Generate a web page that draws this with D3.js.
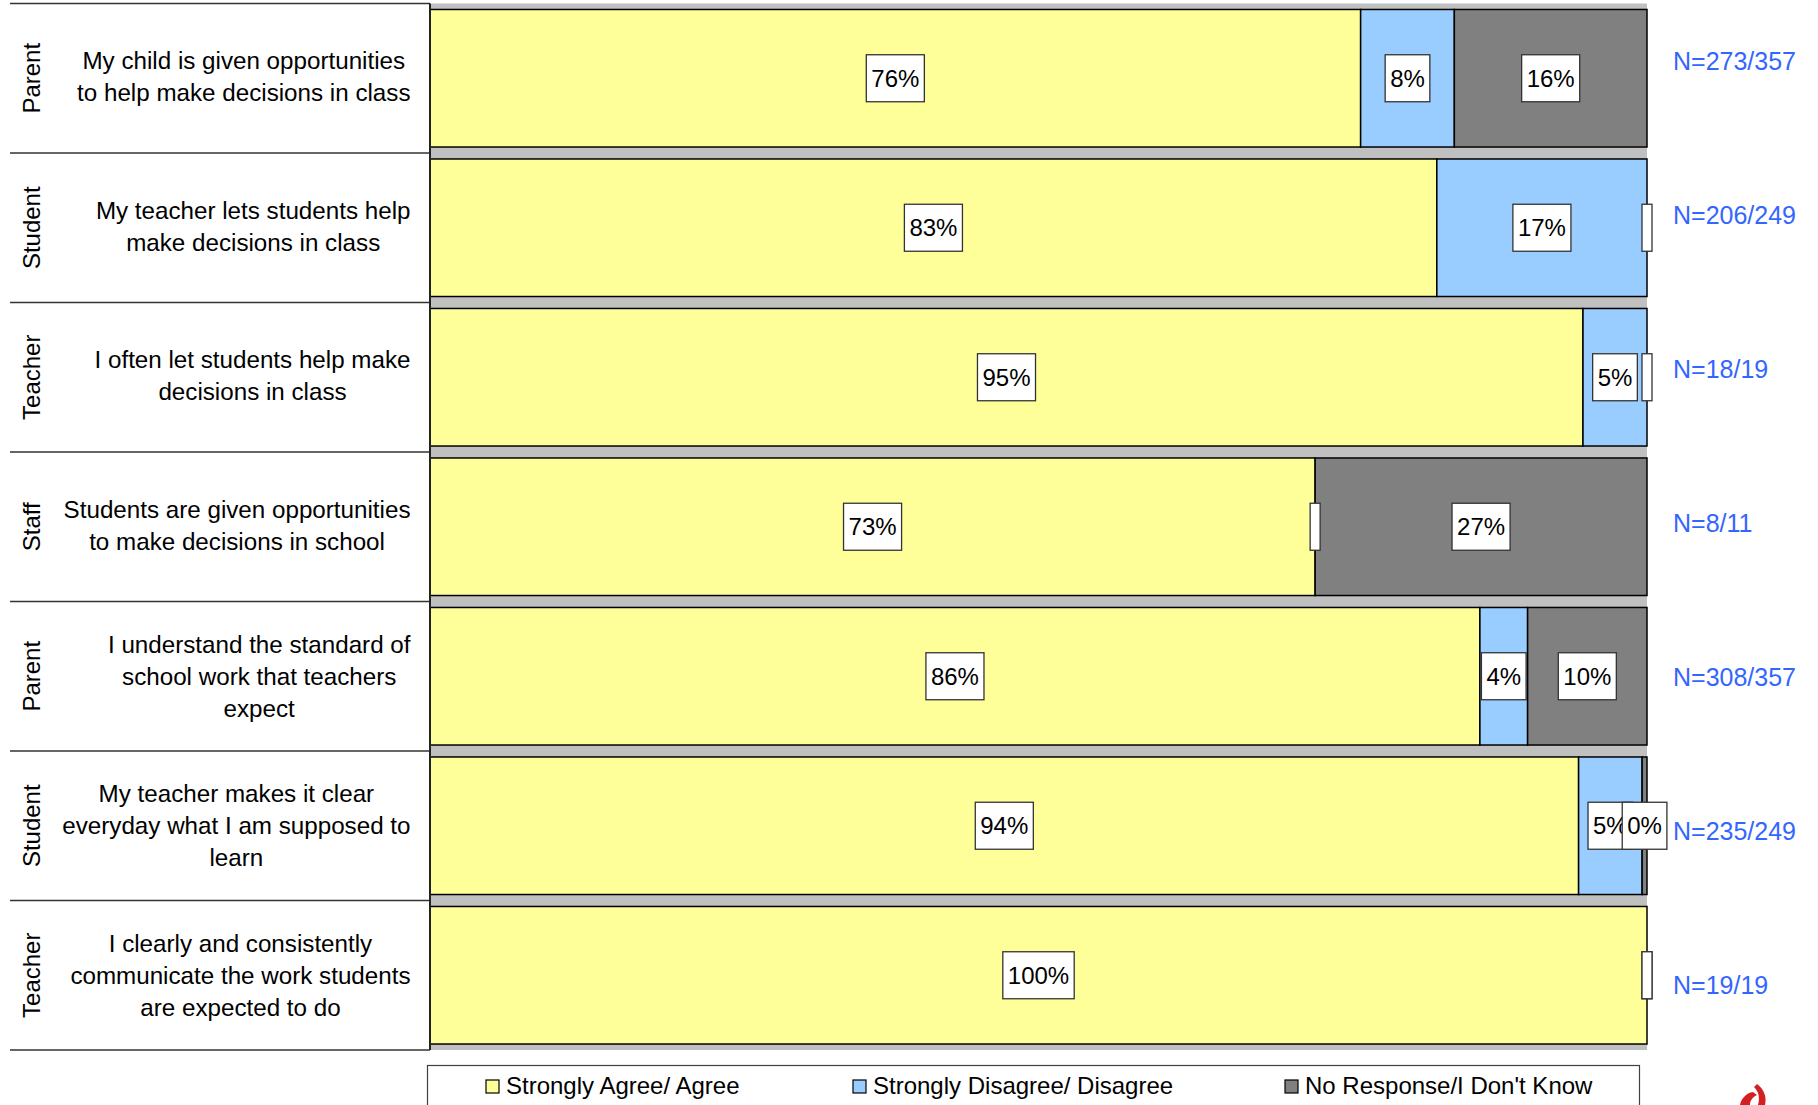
<!DOCTYPE html>
<html>
<head>
<meta charset="utf-8">
<script src="https://cdn.jsdelivr.net/npm/d3@7"></script>
<style>
  html, body { margin: 0; padding: 0; background: #fff; }
  svg { display: block; font-family: "Liberation Sans", Arial, sans-serif; }
</style>
</head>
<body>
<svg id="chart" width="1818" height="1105"></svg>
<script>
// ---- data ----
const groups = ["Parent", "Student", "Teacher", "Staff", "Parent", "Student", "Teacher"];
const questions = [
  ["My child is given opportunities", "to help make decisions in class"],
  ["My teacher lets students help", "make decisions in class"],
  ["I often let students help make", "decisions in class"],
  ["Students are given opportunities", "to make decisions in school"],
  ["I understand the standard of", "school work that teachers", "expect"],
  ["My teacher makes it clear", "everyday what I am supposed to", "learn"],
  ["I clearly and consistently", "communicate the work students", "are expected to do"]
];
const agree    = [76.47, 82.73, 94.74, 72.73, 86.27, 94.38, 100];
const disagree = [7.70, 17.27, 5.26, 0, 3.92, 5.22, 0];
const noResp   = [15.83, 0, 0, 27.27, 9.81, 0.40, 0];
const nLabels  = ["N=273/357", "N=206/249", "N=18/19", "N=8/11", "N=308/357", "N=235/249", "N=19/19"];
const seriesNames = ["Strongly Agree/ Agree", "Strongly Disagree/ Disagree", "No Response/I Don't Know"];
const seriesColors = ["#FFFF99", "#99CCFF", "#808080"];

// ---- layout ----
const svg = d3.select("#chart");
const plotL = 430, plotR = 1647, plotT = 3.5, plotB = 1050;
const rows = d3.range(groups.length);

const x = d3.scaleLinear().domain([0, 100]).range([plotL, plotR]);
const y = d3.scaleBand().domain(rows).range([plotT, plotB]).paddingInner(0.08).paddingOuter(0.04);
const rowBand = d3.scaleBand().domain(rows).range([plotT, plotB]);
const nY = d3.scalePoint().domain(rows).range([61, 985]);

// plot background
svg.append("rect")
  .attr("x", plotL).attr("y", plotT)
  .attr("width", plotR - plotL).attr("height", plotB - plotT)
  .attr("fill", "#C0C0C0");

// left separators
svg.append("g").selectAll("line")
  .data(d3.range(groups.length + 1))
  .join("line")
  .attr("x1", 10).attr("x2", plotL)
  .attr("y1", i => i < groups.length ? rowBand(i) : plotB)
  .attr("y2", i => i < groups.length ? rowBand(i) : plotB)
  .attr("stroke", "#333").attr("stroke-width", 1.5);

// stacked data
const table = rows.map(i => ({ row: i, values: [agree[i], disagree[i], noResp[i]] }));
const segs = [];
table.forEach(r => {
  let acc = 0;
  r.values.forEach((v, s) => {
    segs.push({ row: r.row, s, v, x0: acc, x1: acc + v });
    acc += v;
  });
});

// bars
svg.append("g").selectAll("rect")
  .data(segs)
  .join("rect")
  .attr("x", d => x(d.x0))
  .attr("y", d => y(d.row))
  .attr("width", d => x(d.x1) - x(d.x0))
  .attr("height", y.bandwidth())
  .attr("fill", d => seriesColors[d.s])
  .attr("stroke", "#000").attr("stroke-width", 1.5);

// left axis line
svg.append("line")
  .attr("x1", plotL).attr("x2", plotL)
  .attr("y1", plotT).attr("y2", plotB)
  .attr("stroke", "#222").attr("stroke-width", 2);

// data labels
const lblG = svg.append("g");
segs.forEach(d => {
  const txt = d.v === 0 ? "" : Math.round(d.v) + "%";
  const cx = x((d.x0 + d.x1) / 2);
  const cy = y(d.row) + y.bandwidth() / 2;
  const g = lblG.append("g");
  const rect = g.append("rect").attr("fill", "#fff").attr("stroke", "#333").attr("stroke-width", 1.3);
  const t = g.append("text")
    .attr("x", cx).attr("y", cy + 8.5)
    .attr("text-anchor", "middle")
    .attr("font-size", 24).attr("fill", "#000")
    .text(txt);
  const w = (txt ? t.node().getComputedTextLength() : 0) + 10;
  rect.attr("x", cx - w / 2).attr("y", cy - 23.5).attr("width", w).attr("height", 47);
});

// group labels (rotated)
svg.append("g").selectAll("text")
  .data(rows)
  .join("text")
  .attr("transform", i => `translate(40,${rowBand(i) + rowBand.bandwidth() / 2}) rotate(-90)`)
  .attr("text-anchor", "middle")
  .attr("font-size", 24).attr("fill", "#000")
  .text(i => groups[i]);

// question text
const qG = svg.append("g");
rows.forEach(i => {
  const lines = questions[i];
  const g = qG.append("g");
  const cy = rowBand(i) + rowBand.bandwidth() / 2 - (lines.length === 2 ? 1.5 : 0);
  const lh = 32;
  const texts = g.selectAll("text").data(lines).join("text")
    .attr("y", (l, k) => cy + (k - (lines.length - 1) / 2) * lh + 8.5)
    .attr("text-anchor", "middle")
    .attr("font-size", 24.2).attr("fill", "#000")
    .text(l => l);
  const maxW = d3.max(texts.nodes(), n => n.getComputedTextLength());
  texts.attr("x", 410.5 - maxW / 2);
});

// N labels
svg.append("g").selectAll("text")
  .data(rows)
  .join("text")
  .attr("x", 1673)
  .attr("y", i => nY(i) + 9)
  .attr("font-size", 25).attr("fill", "#3366FF")
  .text(i => nLabels[i]);

// legend
svg.append("rect")
  .attr("x", 427.5).attr("y", 1065.5).attr("width", 1212).attr("height", 80)
  .attr("fill", "#fff").attr("stroke", "#404040").attr("stroke-width", 1.2);
const legX = [486, 853, 1285];
const leg = svg.append("g").selectAll("g")
  .data(seriesNames)
  .join("g")
  .attr("transform", (d, i) => `translate(${legX[i]},1080)`);
leg.append("rect")
  .attr("width", 13).attr("height", 13)
  .attr("fill", (d, i) => seriesColors[i])
  .attr("stroke", "#000").attr("stroke-width", 1.2);
leg.append("text")
  .attr("x", 20).attr("y", 13.5)
  .attr("font-size", 24).attr("fill", "#000")
  .text(d => d);

// small cropped logo fragment (bottom-right corner)
svg.append("path")
  .attr("d", "M1757,1084 C1764,1089 1767,1097 1765,1105 L1758,1105 C1760,1098 1759,1092 1754,1087 Z M1753,1092 C1746,1093 1741,1099 1740,1105 L1750,1105 C1750,1100 1753,1097 1757,1095 Z")
  .attr("fill", "#D42020");
</script>
</body>
</html>
